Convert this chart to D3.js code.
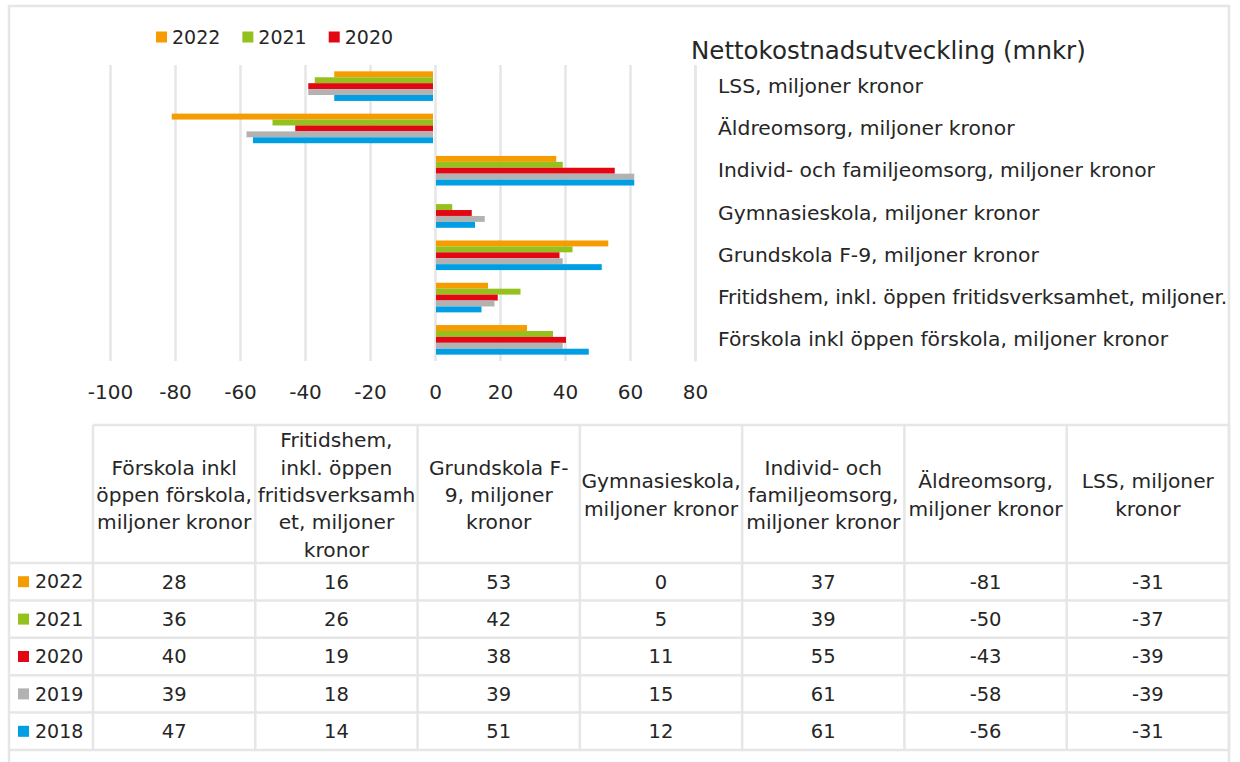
<!DOCTYPE html>
<html>
<head>
<meta charset="utf-8">
<script src="https://cdn.jsdelivr.net/npm/d3@7"></script>
<style>
  body { margin: 0; background: #fff; }
  svg text { font-family: "DejaVu Sans", Verdana, sans-serif; fill: #262626; }
</style>
</head>
<body>
<svg id="chart" width="1240" height="762"></svg>
<script>
// categories in table order (left to right)
const categories = [
  'Förskola inkl öppen förskola, miljoner kronor',
  'Fritidshem, inkl. öppen fritidsverksamhet, miljoner kronor',
  'Grundskola F-9, miljoner kronor',
  'Gymnasieskola, miljoner kronor',
  'Individ- och familjeomsorg, miljoner kronor',
  'Äldreomsorg, miljoner kronor',
  'LSS, miljoner kronor'
];

// header text as it wraps in the table
const headerLines = [
  ['Förskola inkl', 'öppen förskola,', 'miljoner kronor'],
  ['Fritidshem,', 'inkl. öppen', 'fritidsverksamh', 'et, miljoner', 'kronor'],
  ['Grundskola F-', '9, miljoner', 'kronor'],
  ['Gymnasieskola,', 'miljoner kronor'],
  ['Individ- och', 'familjeomsorg,', 'miljoner kronor'],
  ['Äldreomsorg,', 'miljoner kronor'],
  ['LSS, miljoner', 'kronor']
];

const years = ['2022', '2021', '2020', '2019', '2018'];
const values2022 = [28, 16, 53, 0, 37, -81, -31];
const values2021 = [36, 26, 42, 5, 39, -50, -37];
const values2020 = [40, 19, 38, 11, 55, -43, -39];
const values2019 = [39, 18, 39, 15, 61, -58, -39];
const values2018 = [47, 14, 51, 12, 61, -56, -31];
const colors = ['#f59c00', '#95c11f', '#e30613', '#b2b2b2', '#009fe3'];
const xTicks = [-100, -80, -60, -40, -20, 0, 20, 40, 60, 80];
const legendYears = ['2022', '2021', '2020'];
const title = 'Nettokostnadsutveckling (mnkr)';

const series = [values2022, values2021, values2020, values2019, values2018];
const rows = [];
years.forEach((yr, i) => {
  categories.forEach((c, j) => rows.push({ year: yr, cat: c, value: series[i][j] }));
});

const color = d3.scaleOrdinal().domain(years).range(colors);
const svg = d3.select('#chart');
const gridColor = '#e6e6e6';

// chart frame
svg.append('rect')
  .attr('x', 9).attr('y', 6)
  .attr('width', 1220).attr('height', 800)
  .attr('fill', 'none')
  .attr('stroke', gridColor)
  .attr('stroke-width', 2.5);

// ---- bar chart ----
const plot = { left: 110, right: 695, top: 65, bottom: 361 };

const x = d3.scaleLinear().domain([-100, 80]).range([plot.left, plot.right]);
const y = d3.scaleBand()
  .domain(categories.slice().reverse())
  .range([plot.top, plot.bottom])
  .paddingInner(0.3)
  .paddingOuter(0.15);
const yInner = d3.scaleBand().domain(years).range([0, y.bandwidth()]);

// gridlines
svg.append('g')
  .attr('class', 'gridlines')
  .attr('transform', `translate(0, ${plot.bottom})`)
  .call(d3.axisBottom(x).tickValues(xTicks).tickFormat('').tickSize(-(plot.bottom - plot.top)))
  .call(g => g.select('.domain').remove())
  .call(g => g.selectAll('line').attr('stroke', gridColor).attr('stroke-width', 2.5));

// x tick labels (plain hyphen for minus, as in the original)
svg.append('g')
  .attr('transform', `translate(0, ${plot.bottom})`)
  .call(d3.axisBottom(x).tickValues(xTicks).tickSize(0).tickFormat(d => String(d)))
  .call(g => g.select('.domain').remove())
  .call(g => g.selectAll('text')
    .attr('y', 31).attr('dy', '0.35em')
    .style('font-size', '20px')
    .style('font-family', '"DejaVu Sans", sans-serif'));

// bars
const x0 = x(0);
svg.append('g')
  .selectAll('rect')
  .data(rows.filter(d => d.value !== 0))
  .join('rect')
  .attr('x', d => d.value < 0 ? x(d.value) : x0 + 1)
  .attr('width', d => d.value < 0 ? x0 - 2 - x(d.value) : x(d.value) - x0)
  .attr('y', d => y(d.cat) + yInner(d.year))
  .attr('height', yInner.bandwidth())
  .attr('fill', d => color(d.year));

// category axis on the right (crosses at max); the long label is shortened like in the original
svg.append('g')
  .attr('transform', `translate(${plot.right}, 0)`)
  .call(d3.axisRight(y).tickSize(0).tickPadding(23)
    .tickFormat(d => d.startsWith('Fritidshem') ? 'Fritidshem, inkl. öppen fritidsverksamhet, miljoner.' : d))
  .call(g => g.select('.domain').attr('stroke', gridColor).attr('stroke-width', 2))
  .call(g => g.selectAll('text')
    .style('font-size', '20.3px')
    .style('font-family', '"DejaVu Sans", sans-serif')
    .style('letter-spacing', d => d.startsWith('Fritidshem') ? '-0.15px' : null));

// title
svg.append('text')
  .attr('x', 691).attr('y', 50)
  .attr('dy', '0.35em')
  .style('font-size', '24.5px')
  .text(title);

// legend
const legend = svg.append('g').attr('transform', 'translate(156, 37)');
let lx = 0;
legendYears.forEach(yr => {
  const item = legend.append('g').attr('transform', `translate(${lx}, 0)`);
  item.append('rect').attr('x', 0).attr('y', -5.5).attr('width', 11).attr('height', 11).attr('fill', color(yr));
  const t = item.append('text').attr('x', 16).attr('dy', '0.35em').style('font-size', '19px').text(yr);
  lx += 16 + t.node().getComputedTextLength() + 22;
});

// ---- data table ----
const tableLeft = 10;
const tableRight = 1229;
const colStart = 93;
const headerTop = 425;
const headerBottom = 563;
const tableBottom = 750;

const col = d3.scaleBand().domain(categories).range([colStart, tableRight]);
const row = d3.scaleBand().domain(years).range([headerBottom, tableBottom]);

const table = svg.append('g').attr('class', 'table');
const lineStyle = sel => sel.attr('stroke', gridColor).attr('stroke-width', 2.5);

// horizontal lines
table.append('line').attr('x1', colStart).attr('x2', tableRight).attr('y1', headerTop).attr('y2', headerTop).call(lineStyle);
table.selectAll('line.h')
  .data(years.concat(['end']))
  .join('line')
  .attr('class', 'h')
  .attr('x1', tableLeft).attr('x2', tableRight)
  .attr('y1', d => d === 'end' ? tableBottom : row(d))
  .attr('y2', d => d === 'end' ? tableBottom : row(d))
  .call(lineStyle);

// vertical lines
table.selectAll('line.v')
  .data(categories.concat(['end']))
  .join('line')
  .attr('class', 'v')
  .attr('x1', d => d === 'end' ? tableRight : col(d))
  .attr('x2', d => d === 'end' ? tableRight : col(d))
  .attr('y1', headerTop).attr('y2', tableBottom)
  .call(lineStyle);

// header text
const lineH = 27.4;
const headerMid = (headerTop + headerBottom) / 2 + 1;
categories.forEach((c, i) => {
  const lines = headerLines[i];
  const t = table.append('text')
    .attr('text-anchor', 'middle')
    .style('font-size', '20.2px');
  lines.forEach((ln, k) => {
    t.append('tspan')
      .attr('x', col(c) + col.bandwidth() / 2)
      .attr('y', headerMid - (lines.length - 1) * lineH / 2 + k * lineH)
      .attr('dy', '0.35em')
      .text(ln);
  });
});

// row labels with swatches
years.forEach(yr => {
  const cy = row(yr) + row.bandwidth() / 2;
  table.append('rect').attr('x', 18).attr('y', cy - 5.5).attr('width', 11).attr('height', 11).attr('fill', color(yr));
  table.append('text').attr('x', 35).attr('y', cy).attr('dy', '0.35em').style('font-size', '19px').text(yr);
});

// cell values
table.selectAll('text.val')
  .data(rows)
  .join('text')
  .attr('class', 'val')
  .attr('text-anchor', 'middle')
  .attr('x', d => col(d.cat) + col.bandwidth() / 2)
  .attr('y', d => row(d.year) + row.bandwidth() / 2)
  .attr('dy', '0.35em')
  .style('font-size', '19.5px')
  .text(d => d.value);
</script>
</body>
</html>
